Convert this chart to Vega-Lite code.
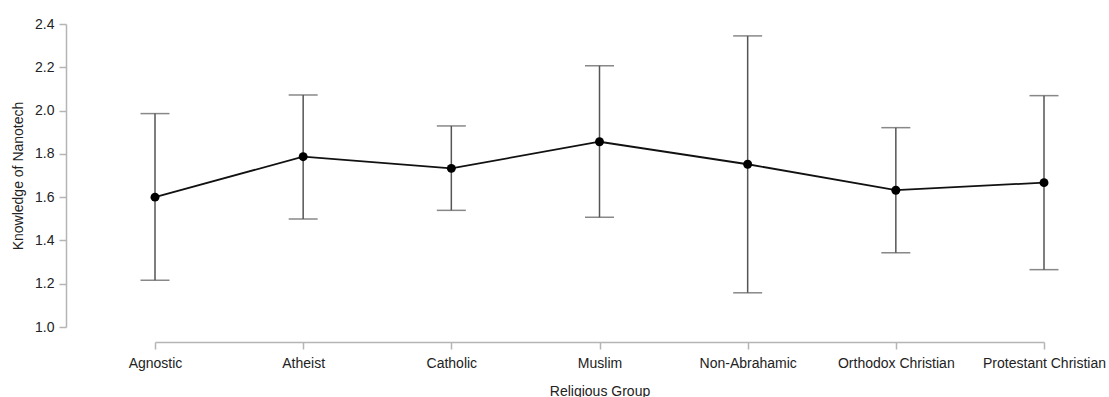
{
  "$schema": "https://vega.github.io/schema/vega-lite/v6.json",
  "width": 889,
  "height": 303,
  "autosize": {"type": "none"},
  "padding": {"left": 155, "top": 24, "right": 65, "bottom": 70},
  "background": "white",
  "config": {
    "view": {"stroke": null},
    "font": "Liberation Sans",
    "axis": {"grid": false, "domainColor": "#b5b5b5", "tickColor": "#b5b5b5", "labelColor": "#222", "titleColor": "#222", "labelFont": "Liberation Sans", "titleFont": "Liberation Sans", "labelFontSize": 14, "titleFontSize": 14, "titleFontWeight": "normal", "domainWidth": 1.5, "tickWidth": 1.5, "tickSize": 7}
  },
  "data": {"values": [
    {"group": "Agnostic", "mean": 1.600, "lower": 1.216, "upper": 1.986},
    {"group": "Atheist", "mean": 1.787, "lower": 1.499, "upper": 2.072},
    {"group": "Catholic", "mean": 1.733, "lower": 1.539, "upper": 1.929},
    {"group": "Muslim", "mean": 1.856, "lower": 1.507, "upper": 2.207},
    {"group": "Non-Abrahamic", "mean": 1.752, "lower": 1.158, "upper": 2.345},
    {"group": "Orthodox Christian", "mean": 1.632, "lower": 1.343, "upper": 1.921},
    {"group": "Protestant Christian", "mean": 1.667, "lower": 1.265, "upper": 2.069}
  ]},
  "encoding": {
    "x": {"field": "group", "type": "nominal", "sort": null,
      "scale": {"type": "point", "padding": 0},
      "axis": {"title": "Religious Group", "labelAngle": 0, "offset": 15, "labelPadding": 7, "titlePadding": 14}}
  },
  "layer": [
    {"mark": {"type": "rule", "color": "#555", "strokeWidth": 1.5},
     "encoding": {"y": {"field": "lower", "type": "quantitative"}, "y2": {"field": "upper"}}},
    {"mark": {"type": "tick", "color": "#555", "thickness": 1.5, "size": 29},
     "encoding": {"y": {"field": "lower", "type": "quantitative"}}},
    {"mark": {"type": "tick", "color": "#555", "thickness": 1.5, "size": 29},
     "encoding": {"y": {"field": "upper", "type": "quantitative"}}},
    {"mark": {"type": "line", "color": "#111", "strokeWidth": 1.8},
     "encoding": {"y": {"field": "mean", "type": "quantitative"}}},
    {"mark": {"type": "point", "filled": true, "color": "#000", "opacity": 1, "size": 80},
     "encoding": {"y": {"field": "mean", "type": "quantitative",
       "scale": {"domain": [1.0, 2.4], "nice": false, "zero": false},
       "axis": {"title": "Knowledge of Nanotech", "offset": 89, "values": [1.0, 1.2, 1.4, 1.6, 1.8, 2.0, 2.2, 2.4], "format": ".1f", "labelPadding": 5, "titlePadding": 9}}}}
  ]
}
